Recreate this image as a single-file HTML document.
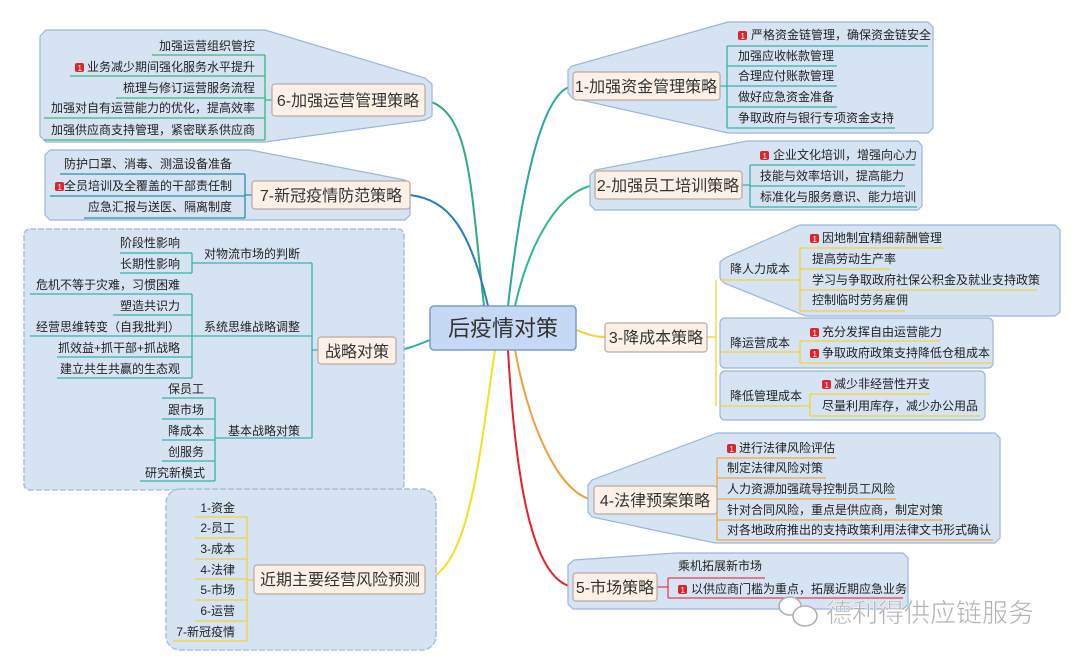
<!DOCTYPE html>
<html><head><meta charset="utf-8"><style>
html,body{margin:0;padding:0;background:#fff}
svg{display:block}
text{font-family:"Liberation Sans","Noto Sans CJK SC",sans-serif;font-size:12px;fill:#222}
.n{font-size:16px;fill:#333}
.c{fill:#d6e3f3;stroke:#9ab6dc;stroke-width:1.2}
.b{fill:#fdf1e7;stroke:#b8aaa0;stroke-width:1.2}
.g{stroke:#3cb878;fill:none;stroke-width:1.3}
.t{stroke:#2a8fb0;fill:none;stroke-width:1.3}
.q{stroke:#36b3a8;fill:none;stroke-width:1.3}
.y{stroke:#f2d23a;fill:none;stroke-width:1.3}
.o{stroke:#f0a840;fill:none;stroke-width:1.3}
.r{stroke:#e04050;fill:none;stroke-width:1.3}
</style></head><body>
<svg width="1080" height="663" viewBox="0 0 1080 663">
<defs>
<g id="ic"><rect x="0" y="-8" width="9" height="9" rx="2" fill="#d8262c"/><text x="2.5" y="0" style="font-size:8px;fill:#fff">1</text></g>
</defs>

<!-- main connectors -->
<path d="M484,306 C470,180 470,110 425,100" stroke="#2fae7a" stroke-width="2" fill="none"/>
<path d="M488,306 C470,230 450,200 410,195" stroke="#2a7fb8" stroke-width="2" fill="none"/>
<path d="M508,306 C520,200 540,90 573,86" stroke="#2aa8a0" stroke-width="2" fill="none"/>
<path d="M515,306 C530,240 560,190 595,185" stroke="#30b890" stroke-width="2" fill="none"/>
<path d="M576,330 C590,335 595,337 605,337" stroke="#f2d23a" stroke-width="2" fill="none"/>
<path d="M430,340 C415,346 405,350 396,350" stroke="#2ab0a0" stroke-width="2" fill="none"/>
<path d="M495,350 C480,450 470,570 425,580" stroke="#f5e020" stroke-width="2" fill="none"/>
<path d="M515,350 C530,430 560,495 594,500" stroke="#f0a040" stroke-width="2" fill="none"/>
<path d="M508,350 C515,470 530,580 573,587" stroke="#e8202a" stroke-width="2" fill="none"/>

<!-- central -->
<rect x="430" y="306" width="146" height="44" rx="4" fill="#c5d8f4" stroke="#7a9cd0" stroke-width="1.5"/>
<text x="503" y="336" text-anchor="middle" style="font-size:22px;fill:#333">后疫情对策</text>

<!-- group 6 -->
<path class="c" d="M46,30 L265,30 L425,78 L432,84 L432,116 L425,120 L265,142 L46,142 L40,136 L40,36 Z"/>
<g class="g"><path d="M152,55H265M70,76H265M116,98H265M44,118H265M44,140H265M265,55V140M265,100H272"/></g>
<text x="255" y="50" text-anchor="end">加强运营组织管控</text>
<use href="#ic" x="75" y="71"/><text x="255" y="71" text-anchor="end">业务减少期间强化服务水平提升</text>
<text x="255" y="92" text-anchor="end">梳理与修订运营服务流程</text>
<text x="255" y="112" text-anchor="end">加强对自有运营能力的优化，提高效率</text>
<text x="255" y="134" text-anchor="end">加强供应商支持管理，紧密联系供应商</text>
<rect class="b" x="272" y="84" width="153" height="32" rx="3"/>
<text class="n" x="348" y="106" text-anchor="middle">6-加强运营管理策略</text>

<!-- group 7 -->
<path class="c" d="M50,150 L250,150 L405,180 L410,185 L410,215 L405,220 L50,220 L45,215 L45,155 Z"/>
<g class="t"><path d="M60,174H245M50,196H245M84,218H245M245,174V218M245,195H252"/></g>
<text x="232" y="168" text-anchor="end">防护口罩、消毒、测温设备准备</text>
<use href="#ic" x="55" y="190"/><text x="232" y="190" text-anchor="end">全员培训及全覆盖的干部责任制</text>
<text x="232" y="211" text-anchor="end">应急汇报与送医、隔离制度</text>
<rect class="b" x="252" y="181" width="158" height="28" rx="3"/>
<text class="n" x="331" y="201" text-anchor="middle">7-新冠疫情防范策略</text>

<!-- strategy group -->
<rect x="24" y="229" width="380" height="261" rx="6" fill="#d6e3f3" stroke="#a8c0e0" stroke-width="1.5" stroke-dasharray="6 2"/>
<g class="q"><path d="M120,253H192M120,273H192M192,253V273M192,263H312M30,294H192M113,315H192M30,336H312M57,357H192M57,378H192M192,294V378M162,398H215M162,419H215M162,440H215M162,461H215M140,481H215M215,398V481M215,438H312M312,263V438M312,350H318"/></g>
<text x="180" y="247" text-anchor="end">阶段性影响</text>
<text x="180" y="268" text-anchor="end">长期性影响</text>
<text x="204" y="258">对物流市场的判断</text>
<text x="36" y="289">危机不等于灾难，习惯困难</text>
<text x="180" y="310" text-anchor="end">塑造共识力</text>
<text x="36" y="331">经营思维转变（自我批判）</text>
<text x="204" y="331">系统思维战略调整</text>
<text x="180" y="352" text-anchor="end">抓效益+抓干部+抓战略</text>
<text x="180" y="373" text-anchor="end">建立共生共赢的生态观</text>
<text x="168" y="393">保员工</text>
<text x="168" y="414">跟市场</text>
<text x="168" y="435">降成本</text>
<text x="168" y="456">创服务</text>
<text x="145" y="477">研究新模式</text>
<text x="228" y="435">基本战略对策</text>
<rect class="b" x="318" y="337" width="78" height="27" rx="3"/>
<text class="n" x="357" y="357" text-anchor="middle">战略对策</text>

<!-- risk group -->
<rect x="166" y="489" width="270" height="161" rx="14" fill="#d6e3f3" stroke="#a8c0e0" stroke-width="1.5" stroke-dasharray="6 2"/>
<g class="y"><path d="M195,517H247M195,538H247M195,559H247M195,579H247M195,600H247M195,621H247M173,641H247M247,517V641M247,580H254"/></g>
<text x="235" y="512" text-anchor="end">1-资金</text>
<text x="235" y="532" text-anchor="end">2-员工</text>
<text x="235" y="553" text-anchor="end">3-成本</text>
<text x="235" y="574" text-anchor="end">4-法律</text>
<text x="235" y="594" text-anchor="end">5-市场</text>
<text x="235" y="615" text-anchor="end">6-运营</text>
<text x="235" y="636" text-anchor="end">7-新冠疫情</text>
<rect class="b" x="254" y="565" width="171" height="29" rx="3"/>
<text class="n" x="340" y="585" text-anchor="middle">近期主要经营风险预测</text>

<!-- node 1 -->
<path class="c" d="M728,22 L928,22 L933,27 L933,128 L928,133 L728,133 L572,98 L568,93 L568,70 L572,66 Z"/>
<g class="q"><path d="M727,46H928M727,66H837M727,86H837M727,107H837M727,128H895M727,46V128M720,86H727"/></g>
<use href="#ic" x="738" y="39"/><text x="751" y="39">严格资金链管理，确保资金链安全</text>
<text x="738" y="60">加强应收帐款管理</text>
<text x="738" y="80">合理应付账款管理</text>
<text x="738" y="101">做好应急资金准备</text>
<text x="738" y="122">争取政府与银行专项资金支持</text>
<rect class="b" x="573" y="72" width="147" height="28" rx="3"/>
<text class="n" x="646" y="92" text-anchor="middle">1-加强资金管理策略</text>

<!-- node 2 -->
<path class="c" d="M747,141 L918,141 L922,146 L922,206 L918,210 L595,210 L590,205 L590,175 L595,170 Z"/>
<g class="q"><path d="M750,165H915M750,186H905M750,207H917M750,165V207M742,185H750"/></g>
<use href="#ic" x="760" y="159"/><text x="773" y="159">企业文化培训，增强向心力</text>
<text x="760" y="180">技能与效率培训，提高能力</text>
<text x="760" y="201">标准化与服务意识、能力培训</text>
<rect class="b" x="595" y="171" width="147" height="28" rx="3"/>
<text class="n" x="668" y="191" text-anchor="middle">2-加强员工培训策略</text>

<!-- node 3 -->
<path class="c" d="M800,225 L1055,225 L1060,230 L1060,312 L1055,316 L806,316 L724,283 L720,278 L720,262 L725,258 Z"/>
<rect class="c" x="720" y="318" width="273" height="50" rx="5"/>
<rect class="c" x="720" y="371" width="265" height="49" rx="5"/>
<g class="y"><path d="M800,248H943M800,269H890M800,290H1037M800,311H905M800,248V311M720,280H800M800,341H940M800,363H993M800,341V363M720,352H800M810,394H930M810,416H980M810,394V416M720,406H810M716,280V406M707,337H716"/></g>
<use href="#ic" x="810" y="242"/><text x="822" y="242">因地制宜精细薪酬管理</text>
<text x="812" y="263">提高劳动生产率</text>
<text x="812" y="284">学习与争取政府社保公积金及就业支持政策</text>
<text x="812" y="304">控制临时劳务雇佣</text>
<text x="730" y="273">降人力成本</text>
<use href="#ic" x="810" y="336"/><text x="822" y="336">充分发挥自由运营能力</text>
<use href="#ic" x="810" y="357"/><text x="822" y="357">争取政府政策支持降低仓租成本</text>
<text x="730" y="347">降运营成本</text>
<use href="#ic" x="822" y="388"/><text x="834" y="388">减少非经营性开支</text>
<text x="822" y="410">尽量利用库存，减少办公用品</text>
<text x="730" y="400">降低管理成本</text>
<rect class="b" x="605" y="323" width="102" height="29" rx="3"/>
<text class="n" x="656" y="343" text-anchor="middle">3-降成本策略</text>

<!-- node 4 -->
<path class="c" d="M717,433 L995,433 L1000,438 L1000,538 L995,543 L715,543 L592,517 L588,512 L588,485 L592,480 Z"/>
<g class="o"><path d="M717,458H836M717,478H826M717,499H896M717,520H943M717,540H993M717,458V540M717,500H710"/></g>
<use href="#ic" x="727" y="452"/><text x="739" y="452">进行法律风险评估</text>
<text x="727" y="472">制定法律风险对策</text>
<text x="727" y="493">人力资源加强疏导控制员工风险</text>
<text x="727" y="514">针对合同风险，重点是供应商，制定对策</text>
<text x="727" y="534">对各地政府推出的支持政策利用法律文书形式确认</text>
<rect class="b" x="594" y="486" width="123" height="28" rx="3"/>
<text class="n" x="655" y="506" text-anchor="middle">4-法律预案策略</text>

<!-- node 5 -->
<path class="c" d="M676,553 L903,553 L908,558 L908,605 L903,609 L573,609 L568,604 L568,565 L574,560 Z"/>
<g class="r"><path d="M668,578H765M668,598H903M668,578V598M657,587H668"/></g>
<text x="678" y="570">乘机拓展新市场</text>
<use href="#ic" x="678" y="593"/><text x="691" y="593">以供应商门槛为重点，拓展近期应急业务</text>
<rect class="b" x="573" y="573" width="84" height="28" rx="3"/>
<text class="n" x="615" y="593" text-anchor="middle">5-市场策略</text>

<!-- watermark -->
<g fill="none" stroke="#b0b0b0" stroke-width="1.6">
<ellipse cx="790" cy="606" rx="11" ry="9" fill="#fff"/>
<ellipse cx="805" cy="616" rx="12" ry="10" fill="#fff"/>
</g>
<text x="826" y="622" style="font-size:26px;fill:#b4b4b4;stroke:#fff;stroke-width:0.5">德利得供应链服务</text>
</svg>
</body></html>
